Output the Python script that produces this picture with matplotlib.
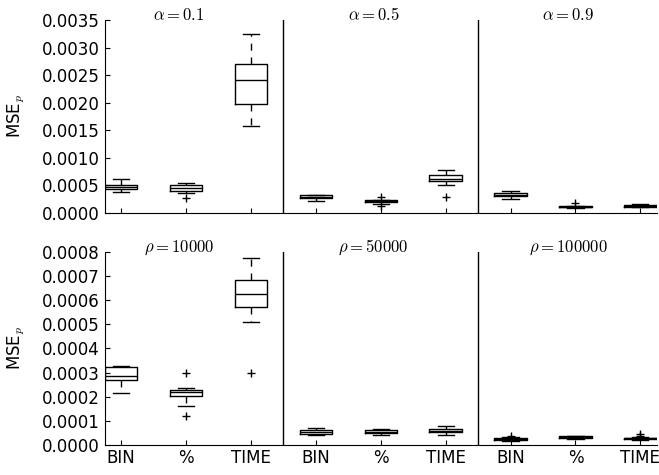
import numpy as np
from matplotlib import pyplot as plt
from matplotlib.ticker import FormatStrFormatter, MultipleLocator

plt.rcParams['mathtext.fontset'] = 'cm'
plt.rcParams['font.size'] = 12

methods = ['BIN', '%', 'TIME']
alpha_labels = [r'$\alpha=0.1$', r'$\alpha=0.5$', r'$\alpha=0.9$']
rho_labels = [r'$\rho=10000$', r'$\rho=50000$', r'$\rho=100000$']

# box statistics: (whislo, q1, med, q3, whishi, fliers)
alpha_stats = [
    # alpha = 0.1
    (0.00038, 0.00043, 0.00047, 0.00051, 0.00061, []),
    (0.00037, 0.00040, 0.00045, 0.00050, 0.00055, [0.00027]),
    (0.00158, 0.00198, 0.00241, 0.00270, 0.00324, []),
    # alpha = 0.5
    (0.000217, 0.000268, 0.000287, 0.000323, 0.000328, []),
    (0.000163, 0.000201, 0.000220, 0.000229, 0.000235, [0.000299, 0.000121]),
    (0.000511, 0.000573, 0.000625, 0.000683, 0.000772, [0.000298]),
    # alpha = 0.9
    (0.00026, 0.00031, 0.00033, 0.000355, 0.000405, []),
    (0.000095, 0.000105, 0.000115, 0.000125, 0.000135, [0.00019]),
    (0.00010, 0.00011, 0.00013, 0.00015, 0.00016, []),
]

rho_stats = [
    # rho = 10000
    (0.000217, 0.000268, 0.000287, 0.000323, 0.000328, []),
    (0.000163, 0.000201, 0.000220, 0.000229, 0.000235, [0.000299, 0.000121]),
    (0.000511, 0.000573, 0.000625, 0.000683, 0.000772, [0.000298]),
    # rho = 50000
    (0.000043, 0.000047, 0.000054, 0.000061, 0.000070, []),
    (0.000043, 0.000049, 0.000055, 0.000061, 0.000066, []),
    (0.000040, 0.000052, 0.000059, 0.000066, 0.000077, []),
    # rho = 100000
    (0.000018, 0.000022, 0.000026, 0.000030, 0.000033, [0.000038]),
    (0.000026, 0.000030, 0.000033, 0.000036, 0.000038, []),
    (0.000020, 0.000024, 0.000027, 0.000030, 0.000033, [0.000044, 0.000038]),
]

alpha_ylim = 0.0035
alpha_step = 0.0005
rho_ylim = 0.0008
rho_step = 0.0001


def to_bxp(stats):
    out = []
    for lo, q1, med, q3, hi, fl in stats:
        out.append(dict(whislo=lo, q1=q1, med=med, q3=q3, whishi=hi, fliers=fl))
    return out


def draw_row(ax, stats, titles, ymax, step, show_labels):
    pos = np.arange(1, len(stats) + 1)
    line = dict(color='black', linewidth=1.0)
    ax.bxp(to_bxp(stats), positions=pos, widths=0.5,
           boxprops=line, medianprops=line, capprops=line,
           whiskerprops=dict(color='black', linewidth=1.0, linestyle=(0, (5, 5))),
           flierprops=dict(marker='+', markeredgecolor='black', markersize=6,
                           linestyle='none'))
    # separators between the three groups
    for x in [3.5, 6.5]:
        ax.axvline(x, color='black', linewidth=1.0)
    for i, t in enumerate(titles):
        ax.text(2 + 3 * i - 0.11, 1.0, t, transform=ax.get_xaxis_transform(),
                ha='center', va='baseline', fontsize=12)
    ax.set_xlim(0.75, 9.25)
    ax.set_ylim(0, ymax)
    ax.yaxis.set_major_locator(MultipleLocator(step))
    ax.yaxis.set_major_formatter(FormatStrFormatter('%.4f'))
    ax.set_xticks(pos)
    if show_labels:
        ax.set_xticklabels(methods * 3)
    else:
        ax.set_xticklabels([])
    ax.spines['top'].set_visible(False)
    ax.spines['right'].set_visible(False)
    ax.tick_params(direction='in', top=False, right=False, labelsize=12)
    ax.tick_params(axis='x', pad=3)
    ax.set_ylabel('MSE$_p$', fontsize=12)
    ax.yaxis.set_label_coords(-0.141, 0.5)


fig = plt.figure(figsize=(6.59, 4.75), dpi=100)
ax_top = fig.add_axes([0.1593, 0.5516, 0.8370, 0.4063])
ax_bot = fig.add_axes([0.1593, 0.0632, 0.8370, 0.4069])

draw_row(ax_top, alpha_stats, alpha_labels, alpha_ylim, alpha_step, False)
draw_row(ax_bot, rho_stats, rho_labels, rho_ylim, rho_step, True)

plt.savefig('out.png', dpi=100)
plt.close()
